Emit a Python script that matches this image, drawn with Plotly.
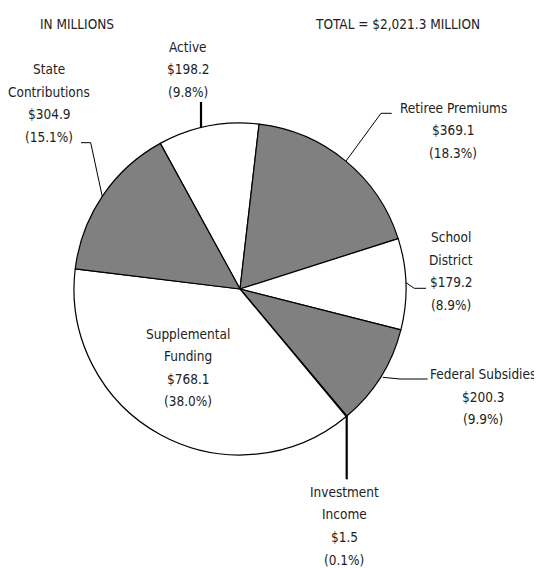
import plotly.graph_objects as go

W, H = 542, 568
OFF = 8  # the page body adds an 8px margin around the figure

LABELS = ["Active", "Retiree Premiums", "School District", "Federal Subsidies",
          "Investment Income", "Supplemental Funding", "State Contributions"]
VALUES = [198.2, 369.1, 179.2, 200.3, 1.5, 768.1, 304.9]
PCTS = ["9.8%", "18.3%", "8.9%", "9.9%", "0.1%", "38.0%", "15.1%"]
# label text as it is broken across lines in the source
LABEL_LINES = [["Active"], ["Retiree Premiums"], ["School", "District"],
               ["Federal Subsidies"], ["Investment", "Income"],
               ["Supplemental", "Funding"], ["State", "Contributions"]]
COLORS = ["#ffffff", "#808080", "#ffffff", "#808080", "#000000", "#ffffff", "#808080"]

FONT = "DejaVu Sans Condensed, Liberation Sans Narrow, sans-serif"
TXT = "#222222"
FS = 13.5
LINE = 22.6

# pie placement in page pixels
CX, CY, R = 240, 289, 166


def px(x, y):
    return (x - OFF) / W, 1 - (y - OFF) / H


x0, y1 = px(CX - R, CY - R)
x1, y0 = px(CX + R, CY + R)

fig = go.Figure(go.Pie(
    labels=LABELS, values=VALUES, sort=False, direction="clockwise",
    rotation=-28.7, textinfo="none", hoverinfo="label+value+percent",
    marker=dict(colors=COLORS, line=dict(color="#000000", width=1.2)),
    domain=dict(x=[x0, x1], y=[y0, y1]),
    showlegend=False,
))

# label block: centre x and first-line y (page px); leader lines (page px)
LABEL_POS = [(188, 46.7), (453, 107.7), (451, 237), (483, 374), (344, 491.7), (188, 333.5), (49, 69)]
LEADERS = [
    ([(201, 102), (201, 127)], 2.2),
    ([(391.7, 113.3), (381, 113.3), (346, 161)], 1),
    ([(426, 288.3), (414.3, 288.3), (406, 282.7)], 1),
    ([(427.7, 379), (400, 379), (382.7, 377.3)], 1),
    ([(346.7, 415), (346.7, 479.3)], 2.2),
    None,
    ([(81, 142.7), (90.7, 142.7), (102.3, 196.7)], 1),
]


def add_text(text, x, y):
    ax, ay = px(x, y)
    fig.add_annotation(x=ax, y=ay, xref="paper", yref="paper", text=text,
                       showarrow=False, xanchor="center", yanchor="middle",
                       font=dict(size=FS, color=TXT, family=FONT))


for lines, val, pct, (x, y), leader in zip(LABEL_LINES, VALUES, PCTS, LABEL_POS, LEADERS):
    for i, line in enumerate(lines + [f"${val:,.1f}", f"({pct})"]):
        add_text(line, x, y + i * LINE)
    if leader:
        pts, lw = leader
        path = "M " + " L ".join(f"{px(a, b)[0]},{px(a, b)[1]}" for a, b in pts)
        fig.add_shape(type="path", path=path, xref="paper", yref="paper",
                      line=dict(color="#000000", width=lw))

TOTAL = sum(VALUES)
add_text("IN MILLIONS", 77, 24)
add_text(f"TOTAL = ${TOTAL:,.1f} MILLION", 397.5, 24)

fig.update_layout(
    width=W, height=H,
    margin=dict(l=0, r=0, t=0, b=0),
    paper_bgcolor="white", plot_bgcolor="white",
)

fig.write_html("out.html")
